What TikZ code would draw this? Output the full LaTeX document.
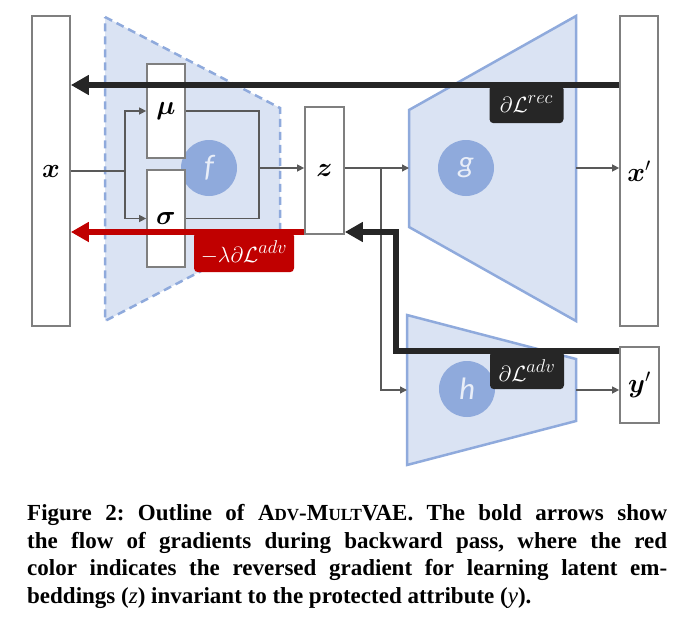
\RequirePackage{fix-cm}
\documentclass[tikz,border=0pt]{standalone}
\usepackage{fontspec}
\usepackage{bm}
\usetikzlibrary{arrows.meta,backgrounds,calc}

\newfontfamily\captionfont{Liberation Serif}
\newfontfamily\circlefont{Carlito}
\newcommand{\fakesc}[1]{{\fontsize{17}{17}\selectfont #1}}
\newcommand{\lossup}[1]{\raisebox{1pt}{\fontsize{18.5}{18.5}\selectfont$#1$}}

\definecolor{trapFill}{HTML}{DAE3F3}
\definecolor{trapLine}{HTML}{8FAADC}
\definecolor{boxLine}{HTML}{7F7F7F}
\definecolor{connGray}{HTML}{595959}
\definecolor{gradBlack}{HTML}{262626}
\definecolor{gradRed}{HTML}{C00000}

\begin{document}
\begin{tikzpicture}[x=1pt, y=-1pt, align=center, >={Triangle[length=7pt,width=7pt]}]

%local definitions
\tikzstyle{VecBox} = [draw=boxLine, line width=1.7pt, fill=white, rectangle, inner sep=0pt, minimum width=38, font=\fontsize{27}{30}\selectfont]
\tikzstyle{FuncCircle} = [circle, fill=trapLine, minimum size=56, inner sep=0pt, text=trapFill!60!white, font=\circlefont\itshape\fontsize{31}{31}\selectfont]
\tikzstyle{Trap} = [fill=trapFill, draw=trapLine, line width=2.5pt, line join=miter]
\tikzstyle{conn} = [draw=connGray, line width=1.3pt]
\tikzstyle{Grad} = [draw=gradBlack, line width=6pt, -{Triangle[length=18pt,width=19pt]}]
\tikzstyle{GradLabel} = [rectangle, rounded corners=4pt, text=white, anchor=north, minimum height=38, inner sep=2pt, font=\fontsize{22}{26}\selectfont]

\useasboundingbox (0,0) rectangle (686,627);

%board components
	\node [VecBox, minimum height=310] (inputX) at (51,171) {$\bm{x}$};
	\node [VecBox, minimum height=94] (muBox) at (166,111) {$\bm{\mu}$};
	\node [VecBox, minimum height=97] (sigmaBox) at (166,218.5) {$\bm{\sigma}$};
	\node [VecBox, minimum width=39, minimum height=127] (latentZ) at (324.5,170.5) {$\bm{z}$};
	\node [VecBox, minimum height=310] (outputX) at (639,171) {$\bm{x}'$};
	\node [VecBox, minimum width=39, minimum height=76] (outputY) at (639.5,385) {$\bm{y}'$};

\begin{scope}[on background layer]
	\filldraw [Trap, dash pattern=on 8pt off 5pt] (105,17) -- (280,108) -- (280,230) -- (105,321) -- cycle;
	\filldraw [Trap] (409,110) -- (576,16) -- (576,321) -- (409,227) -- cycle;
	\filldraw [Trap] (407,315) -- (576,359) -- (576,421) -- (407,465) -- cycle;

	\node [FuncCircle] (encF) at (209,168) {f};
	\node [FuncCircle] (decG) at (466,168) {g};
	\node [FuncCircle] (advH) at (467,389) {h};
\end{scope}

	\coordinate (split) at (125,171);
	\coordinate (merge) at (259,168);
	\coordinate (branch) at (381,168);
	\coordinate (gIn) at (409,168);
	\coordinate (gOut) at (576,168);
	\coordinate (hIn) at (407,390);
	\coordinate (hOut) at (576,390);

%connections
	\draw [conn] (inputX.east |- split) -- (split);
	\draw [conn,->] (split) |- (muBox.west);
	\draw [conn,->] (split) |- (sigmaBox.west);
	\draw [conn] (muBox.east) -| (merge);
	\draw [conn] (sigmaBox.east) -| (merge);
	\draw [conn,->] (merge) -- (latentZ.west |- merge);

	\draw [conn] (latentZ.east |- branch) -- (branch);
	\draw [conn,->] (branch) -- (gIn);
	\draw [conn,->] (branch) |- (hIn);
	\draw [conn,->] (gOut) -- (outputX.west |- gOut);
	\draw [conn,->] (hOut) -- (outputY.west |- hOut);

	%gradient flow
	\coordinate (rec) at (0,85);
	\coordinate (rev) at (0,232);
	\coordinate (adv) at (0,351);
	\coordinate (bend) at (396,0);

	\node [GradLabel, fill=gradBlack, minimum width=74] (recLabel) at (526.5,85) {$\partial\mathcal{L}^{\lossup{rec}}$};
	\node [GradLabel, fill=gradBlack, minimum width=74] (advLabel) at (527,351) {$\partial\mathcal{L}^{\lossup{adv}}$};
	\node [GradLabel, fill=gradRed, minimum width=100, minimum height=40] (revLabel) at (244,232) {$-\lambda\partial\mathcal{L}^{\lossup{adv}}$};

	\draw [Grad] (outputX.west |- rec) -- (inputX.east |- rec);
	\draw [Grad, draw=gradRed, fill=gradRed] (latentZ.west |- rev) -- (inputX.east |- rev);
	\draw [Grad] (outputY.west |- adv) -| (bend |- rev) -- (latentZ.east |- rev);

	%caption
	\node [anchor=north west, inner sep=0pt, text width=640pt, align=justify, font=\captionfont\bfseries\frenchspacing\fontsize{23}{27.5}\selectfont] (figCaption) at (27,504.5)
	{Figure 2: Outline of A\fakesc{DV}-M\fakesc{ULT}VAE. The bold arrows show\linebreak the flow of gradients during backward pass, where the red\linebreak color indicates the reversed gradient for learning latent em-\linebreak beddings (\textmd{\textit{z}}) invariant to the protected attribute (\textmd{\textit{y}}).};

\end{tikzpicture}
\end{document}
